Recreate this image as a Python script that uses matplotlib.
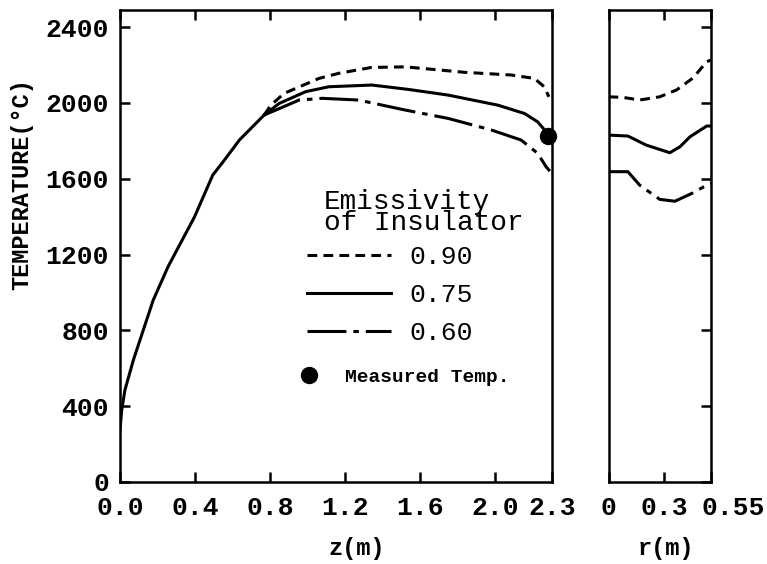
import matplotlib
matplotlib.use("Agg")
import matplotlib.pyplot as plt
import matplotlib.transforms as mtransforms
from matplotlib.lines import Line2D

plt.rcParams['font.family'] = ['Liberation Mono', 'DejaVu Sans']
plt.rcParams['lines.scale_dashes'] = False

# axial profile (left panel), common part up to the split
z_common = [0.0, 0.009, 0.026, 0.071, 0.124, 0.177, 0.256, 0.397, 0.494, 0.556, 0.636, 0.768]
T_common = [280, 380, 485, 643, 802, 960, 1136, 1399, 1619, 1698, 1804, 1936]

# emissivity 0.90
z_90 = [0.768, 0.804, 0.874, 1.06, 1.166, 1.34, 1.52, 1.837, 2.084, 2.208, 2.26, 2.285]
T_90 = [1936, 1988, 2050, 2129, 2156, 2187, 2190, 2161, 2147, 2129, 2085, 2032]
# emissivity 0.75
z_75 = [0.768, 0.848, 0.989, 1.113, 1.342, 1.536, 1.748, 2.013, 2.155, 2.225, 2.27, 2.29]
T_75 = [1936, 1997, 2059, 2085, 2094, 2071, 2041, 1988, 1944, 1900, 1848, 1820]
# emissivity 0.60
z_60 = [0.768, 0.83, 0.954, 1.077, 1.27, 1.52, 1.748, 1.978, 2.137, 2.225, 2.27, 2.29]
T_60 = [1936, 1962, 2015, 2024, 2015, 1962, 1918, 1857, 1804, 1734, 1663, 1640]

z_meas = [2.28]
T_meas = [1825]

# radial profile (right panel)
r_90 = [0.0, 0.077, 0.167, 0.275, 0.365, 0.453, 0.527, 0.55]
Tr_90 = [2032, 2029, 2015, 2032, 2068, 2131, 2217, 2226]
r_75 = [0.0, 0.104, 0.203, 0.329, 0.383, 0.437, 0.527, 0.55]
Tr_75 = [1830, 1825, 1777, 1737, 1768, 1821, 1878, 1878]
r_60 = [0.0, 0.104, 0.167, 0.275, 0.356, 0.455, 0.527, 0.55]
Tr_60 = [1637, 1637, 1566, 1491, 1481, 1526, 1566, 1575]

z_ticks = [0.0, 0.4, 0.8, 1.2, 1.6, 2.0, 2.3]
z_labels = ["0.0", "0.4", "0.8", "1.2", "1.6", "2.0", "2.3"]
r_ticks = [0, 0.3, 0.55]
r_labels = ["0", "0.3", "0.55"]
T_ticks = [0, 400, 800, 1200, 1600, 2000, 2400]

emiss_labels = ["0.90", "0.75", "0.60"]

lw = 2.2
dash90 = (0, (7, 4.5))
dash60 = (0, (28, 5, 4, 5))

fig = plt.figure(figsize=(7.67, 5.64), dpi=100)
ax = fig.add_axes([0.1565, 0.1454, 0.5628, 0.8369])
ax2 = fig.add_axes([0.7934, 0.1454, 0.1336, 0.8369])

ax.plot(z_common, T_common, color='k', lw=lw)
ax.plot(z_90, T_90, color='k', lw=lw, linestyle=dash90)
ax.plot(z_75, T_75, color='k', lw=lw)
ax.plot(z_60, T_60, color='k', lw=lw, linestyle=dash60)
ax.plot(z_meas, T_meas, 'o', color='k', ms=11.5, clip_on=False, zorder=5)

ax2.plot(r_90, Tr_90, color='k', lw=lw, linestyle=dash90)
ax2.plot(r_75, Tr_75, color='k', lw=lw)
ax2.plot(r_60, Tr_60, color='k', lw=lw, linestyle=dash60)

for a in (ax, ax2):
    a.set_ylim(0, 2490)
    a.set_yticks(T_ticks)
    for s in a.spines.values():
        s.set_linewidth(1.8)
    a.tick_params(direction='in', length=7, width=1.8, labelsize=19)

ax.set_xlim(0, 2.3)
ax.set_xticks(z_ticks)
ax.set_xticklabels(z_labels, fontweight='bold')
ax.set_yticklabels([str(t) for t in T_ticks], fontweight='bold')
ax.tick_params(axis='x', top=True, pad=10)
ax.tick_params(axis='y', pad=8)

ax2.set_xlim(0, 0.55)
ax2.set_xticks(r_ticks)
ax2.set_xticklabels(r_labels, fontweight='bold')
ax2.tick_params(axis='x', top=True, pad=10)
ax2.tick_params(axis='y', left=False, right=True, labelleft=False)
# last radial label sits a bit to the right in the original
lab = ax2.get_xticklabels()[-1]
lab.set_transform(lab.get_transform() + mtransforms.ScaledTranslation(22 / 100, 0, fig.dpi_scale_trans))

ax.set_xlabel("z(m)", fontsize=17, fontweight='bold', va='center')
ax.xaxis.set_label_coords(0.548, -0.140)
ax2.set_xlabel("r(m)", fontsize=17, fontweight='bold', va='center')
ax2.xaxis.set_label_coords(0.56, -0.140)
ax.set_ylabel("TEMPERATURE(°C)", fontsize=17, fontweight='bold')
ax.yaxis.set_label_coords(-0.2015, 0.631)

ax.text(0.472, 0.571, "Emissivity\nof Insulator", transform=ax.transAxes,
        fontsize=20, va='center', ha='left', linespacing=0.76)

handles = [Line2D([], [], color='k', lw=lw, linestyle=dash90),
           Line2D([], [], color='k', lw=lw),
           Line2D([], [], color='k', lw=lw, linestyle=dash60)]
leg1 = ax.legend(handles, emiss_labels, loc='upper left', bbox_to_anchor=(0.433, 0.502),
                 frameon=False, borderpad=0, borderaxespad=0, handlelength=3.2,
                 handletextpad=0.7, labelspacing=0.53, prop={'size': 19})
ax.add_artist(leg1)

meas_handle = [Line2D([], [], ls='none', marker='o', ms=11.5, color='k')]
ax.legend(meas_handle, ["Measured Temp."], loc='center left', bbox_to_anchor=(0.419, 0.2225),
          frameon=False, borderpad=0, borderaxespad=0, handlelength=0.8,
          handletextpad=1.45, prop={'size': 14, 'weight': 'bold'})

fig.savefig("out.png", dpi=100)
